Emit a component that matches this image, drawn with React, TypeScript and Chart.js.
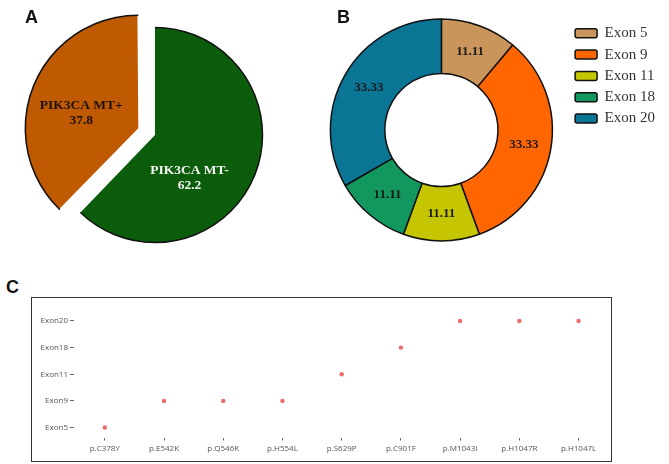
import React, { useEffect, useRef } from 'react';
import { Chart, registerables } from 'chart.js';

Chart.register(...registerables);

// ---------- Data ----------
const mutationGroups = ['PIK3CA MT-', 'PIK3CA MT+'];
const mutationPercent = [62.2, 37.8];

const exonLabels = ['Exon 5', 'Exon 9', 'Exon 11', 'Exon 18', 'Exon 20'];
const exonPercent = [11.11, 33.33, 11.11, 11.11, 33.33];

const mutations = ['p.C378Y', 'p.E542K', 'p.Q546K', 'p.H554L', 'p.S629P', 'p.C901F', 'p.M1043I', 'p.H1047R', 'p.H1047L'];
const exonTicks = ['Exon5', 'Exon9', 'Exon11', 'Exon18', 'Exon20'];
const mutationExon = ['Exon5', 'Exon9', 'Exon9', 'Exon9', 'Exon11', 'Exon18', 'Exon20', 'Exon20', 'Exon20'];

// ---------- Plugins ----------
const arcLabelPlugin = {
  id: 'arcLabels',
  afterDatasetsDraw(chart: any, _args: any, opts: any) {
    const meta = chart.getDatasetMeta(0);
    const ctx = chart.ctx;
    const ds = chart.data.datasets[0];
    ctx.save();
    meta.data.forEach((arc: any, i: number) => {
      const p = arc.getProps(['x', 'y', 'startAngle', 'endAngle', 'outerRadius', 'innerRadius', 'circumference'], true);
      const off = (arc.options.offset || 0) / 4;
      const half = (p.startAngle + p.endAngle) / 2;
      const cx = p.x + Math.cos(half) * off;
      const cy = p.y + Math.sin(half) * off;
      if (opts.rim) {
        const fix = 1 - Math.sin(Math.min(Math.PI, p.circumference || 0));
        const R = p.outerRadius + off * fix;
        ctx.beginPath();
        ctx.arc(cx, cy, R, p.startAngle, p.endAngle);
        ctx.lineWidth = opts.rimWidth;
        ctx.strokeStyle = opts.rimColor;
        ctx.stroke();
      }
      let lx: number, ly: number;
      if (opts.angleFrac) {
        const a = p.startAngle + (p.endAngle - p.startAngle) * opts.angleFrac[i];
        const r = p.outerRadius * opts.radiusFrac[i];
        lx = cx + Math.cos(a) * r;
        ly = cy + Math.sin(a) * r;
      } else {
        const r = (p.innerRadius + p.outerRadius) / 2;
        lx = cx + Math.cos(half) * r;
        ly = cy + Math.sin(half) * r;
      }
      const lines: string[] = opts.showName
        ? [chart.data.labels[i], ds.data[i].toFixed(1)]
        : [ds.data[i].toFixed(2)];
      ctx.font = opts.font;
      ctx.fillStyle = opts.colors[i];
      ctx.textAlign = 'center';
      ctx.textBaseline = 'middle';
      const n = lines.length;
      lines.forEach((t, k) => {
        ctx.fillText(t, lx, ly + (k - (n - 1) / 2) * opts.lineHeight);
      });
    });
    ctx.restore();
  },
};

const tickFont = { family: '"Open Sans", "DejaVu Sans", sans-serif', size: 8 };

export default function App() {
  const pieRef = useRef<HTMLCanvasElement>(null);
  const donutRef = useRef<HTMLCanvasElement>(null);
  const scatterRef = useRef<HTMLCanvasElement>(null);

  useEffect(() => {
    const charts: Chart[] = [];

    charts.push(
      new Chart(pieRef.current!, {
        type: 'pie',
        data: {
          labels: mutationGroups,
          datasets: [
            {
              data: mutationPercent,
              backgroundColor: ['#0b5c0b', '#bf5a02'],
              borderWidth: 0,
              offset: [0, 72],
            },
          ],
        },
        plugins: [arcLabelPlugin],
        options: {
          responsive: false,
          devicePixelRatio: 1,
          animation: false,
          events: [],
          radius: 107.5,
          layout: { padding: 0 },
          plugins: {
            legend: { display: false },
            tooltip: { enabled: false },
            arcLabels: {
              rim: true,
              rimWidth: 1.5,
              rimColor: '#111',
              angleFrac: [0.63, 0.45],
              radiusFrac: [0.51, 0.55],
              showName: true,
              font: 'bold 13.5px "Liberation Serif", "Times New Roman", serif',
              colors: ['#f4f4f4', '#1e1208'],
              lineHeight: 15,
            },
          } as any,
        },
      } as any)
    );

    charts.push(
      new Chart(donutRef.current!, {
        type: 'doughnut',
        data: {
          labels: exonLabels,
          datasets: [
            {
              data: exonPercent,
              backgroundColor: ['#c9955a', '#ff6500', '#c5c500', '#12985e', '#0b7595'],
              borderColor: '#111',
              borderWidth: 1.5,
            },
          ],
        },
        plugins: [arcLabelPlugin],
        options: {
          responsive: false,
          devicePixelRatio: 1,
          animation: false,
          events: [],
          radius: 111,
          cutout: '51%',
          layout: { padding: { left: 14, right: 4, top: 19.5, bottom: 19.5 } },
          plugins: {
            tooltip: { enabled: false },
            legend: {
              display: true,
              position: 'right',
              align: 'start',
              labels: {
                boxWidth: 22,
                boxHeight: 9,
                padding: 6.3,
                useBorderRadius: true,
                borderRadius: 2,
                color: '#333',
                font: { family: '"Liberation Serif", "Times New Roman", serif', size: 15 },
              },
            },
            arcLabels: {
              rim: false,
              showName: false,
              font: 'bold 13px "Liberation Serif", "Times New Roman", serif',
              colors: ['#1a1a1a', '#1a1a1a', '#1a1a1a', '#1a1a1a', '#1a1a1a'],
              lineHeight: 15,
            },
          } as any,
        },
      } as any)
    );

    charts.push(
      new Chart(scatterRef.current!, {
        type: 'scatter',
        data: {
          datasets: [
            {
              data: mutations.map((_, i) => ({ x: i, y: exonTicks.indexOf(mutationExon[i]) })),
              pointRadius: 2.2,
              pointBackgroundColor: '#ee6a6a',
              pointBorderWidth: 0,
            },
          ],
        },
        options: {
          responsive: false,
          devicePixelRatio: 1,
          animation: false,
          events: [],
          layout: { padding: 0 },
          plugins: { legend: { display: false }, tooltip: { enabled: false } },
          scales: {
            x: {
              type: 'linear',
              min: -0.52,
              max: 8.48,
              afterBuildTicks: (a: any) => {
                a.ticks = mutations.map((_, i) => ({ value: i }));
              },
              afterFit: (s: any) => {
                s.height = 23.5;
              },
              ticks: {
                callback: (v: any) => mutations[v],
                font: tickFont,
                color: '#555',
                maxRotation: 0,
                autoSkip: false,
                padding: 3,
              },
              grid: { drawOnChartArea: false, drawTicks: true, tickLength: 3, color: '#666' },
              border: { display: false },
            },
            y: {
              type: 'linear',
              min: -0.375,
              max: 4.607,
              afterBuildTicks: (a: any) => {
                a.ticks = exonTicks.map((_, i) => ({ value: i }));
              },
              afterFit: (s: any) => {
                s.width = 42;
              },
              ticks: {
                callback: (v: any) => exonTicks[v],
                font: tickFont,
                color: '#555',
                autoSkip: false,
                padding: 2,
              },
              grid: { drawOnChartArea: false, drawTicks: true, tickLength: 4, color: '#666' },
              border: { display: false },
            },
          },
        },
      } as any)
    );

    return () => charts.forEach((c) => c.destroy());
  }, []);

  const letter: React.CSSProperties = {
    position: 'absolute',
    font: 'bold 18px "Liberation Sans", Arial, sans-serif',
    lineHeight: '18px',
    color: '#111',
  };

  return (
    <div style={{ position: 'absolute', left: 0, top: 0, width: 669, height: 464, background: '#fff', overflow: 'hidden' }}>
      <canvas ref={pieRef} width={310} height={270} style={{ position: 'absolute', left: 0, top: 0, width: 310, height: 270 }} />
      <canvas ref={donutRef} width={369} height={260} style={{ position: 'absolute', left: 300, top: 0, width: 369, height: 260 }} />
      <div style={{ position: 'absolute', left: 31, top: 297, width: 579, height: 163, border: '1px solid #333' }}>
        <canvas ref={scatterRef} width={579} height={163} style={{ display: 'block', width: 579, height: 163 }} />
      </div>
      <div style={{ ...letter, left: 25, top: 8 }}>A</div>
      <div style={{ ...letter, left: 337, top: 8 }}>B</div>
      <div style={{ ...letter, left: 6, top: 278 }}>C</div>
    </div>
  );
}
